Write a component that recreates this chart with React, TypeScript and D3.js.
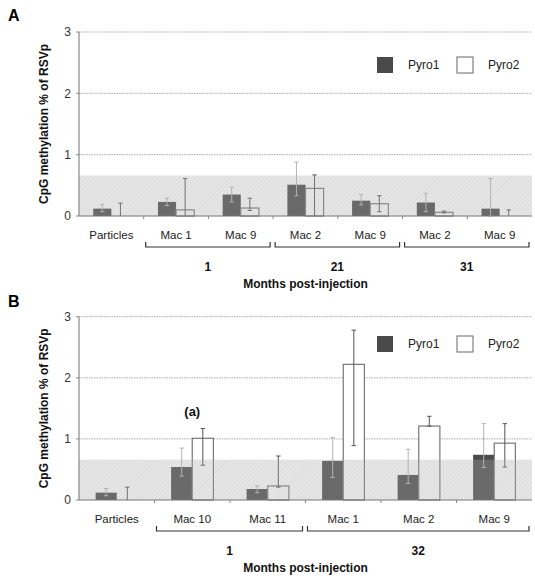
import React from "react";
import * as d3 from "d3";

const categoriesA = ["Particles", "Mac 1", "Mac 9", "Mac 2", "Mac 9", "Mac 2", "Mac 9"];
const pyro1A = [0.12, 0.23, 0.35, 0.51, 0.25, 0.22, 0.12];
const pyro1ALow = [0.07, 0.17, 0.23, 0.33, 0.18, 0.07, 0.0];
const pyro1AHigh = [0.19, 0.29, 0.47, 0.88, 0.35, 0.37, 0.61];
const pyro2A = [0, 0.1, 0.13, 0.45, 0.2, 0.06, 0];
const pyro2ALow = [0, 0, 0.09, 0, 0.07, 0.05, 0];
const pyro2AHigh = [0.21, 0.61, 0.29, 0.67, 0.33, 0.08, 0.1];
const groupsA = [
  { label: "1", from: 1, to: 2 },
  { label: "21", from: 3, to: 4 },
  { label: "31", from: 5, to: 6 },
];

const categoriesB = ["Particles", "Mac 10", "Mac 11", "Mac 1", "Mac 2", "Mac 9"];
const pyro1B = [0.12, 0.54, 0.18, 0.64, 0.41, 0.74];
const pyro1BLow = [0.07, 0.39, 0.12, 0.37, 0.27, 0.53];
const pyro1BHigh = [0.19, 0.85, 0.23, 1.02, 0.83, 1.25];
const pyro2B = [0, 1.01, 0.23, 2.22, 1.21, 0.93];
const pyro2BLow = [0, 0.57, 0.21, 0.89, 1.21, 0.54];
const pyro2BHigh = [0.21, 1.17, 0.72, 2.78, 1.37, 1.25];
const groupsB = [
  { label: "1", from: 1, to: 2 },
  { label: "32", from: 3, to: 5 },
];

const yTicks = [0, 1, 2, 3];
const bandLimit = 0.66;
const seriesNames = ["Pyro1", "Pyro2"];

const FONT = "'Liberation Sans', Arial, Helvetica, sans-serif";

type PanelProps = {
  letter: string;
  top: number;
  y0: number;
  y3: number;
  categories: string[];
  p1: number[]; p1l: number[]; p1h: number[];
  p2: number[]; p2l: number[]; p2h: number[];
  groups: { label: string; from: number; to: number }[];
  legendY: number;
  note?: { index: number; text: string; value: number };
};

function Panel(props: PanelProps) {
  const { letter, top, y0, y3, categories, p1, p1l, p1h, p2, p2l, p2h, groups, legendY, note } = props;
  const left = 79, right = 532;
  const x = d3.scaleBand<number>().domain(categories.map((_, i) => i)).range([left, right]).padding(0);
  const y = d3.scaleLinear().domain([0, 3]).range([y0, y3]);
  const bw = x.bandwidth() * 0.28;
  const cx = (i: number) => (x(i) as number) + x.bandwidth() / 2;
  const cap = 2.2;
  const pid = "hatch" + letter;
  const labelY = y0 + 19;
  const bracketY = y0 + 31;
  const groupY = y0 + 55;
  const titleY = y0 + 72;

  return (
    <g>
      <defs>
        <pattern id={pid} patternUnits="userSpaceOnUse" width={3} height={3} patternTransform="rotate(45)">
          <line x1={0} y1={0} x2={0} y2={3} stroke="#8a8a8a" strokeWidth={0.8} strokeOpacity={0.35} />
        </pattern>
      </defs>
      <text x={8} y={top} fontFamily={FONT} fontWeight="bold" fontSize={16} fill="#000">{letter}</text>
      {yTicks.filter((t) => t > 0).map((t) => (
        <line key={t} x1={left} x2={right} y1={y(t)} y2={y(t)} stroke="#999" strokeWidth={0.8} strokeDasharray="1.5,1" />
      ))}
      {categories.map((_, i) => (
        <g key={"b" + i}>
          <rect x={cx(i) - bw} y={y(p1[i])} width={bw} height={y0 - y(p1[i])} fill="#4a4a4a" />
          {p2[i] > 0 && (
            <rect x={cx(i)} y={y(p2[i])} width={bw} height={y0 - y(p2[i])} fill="#fff" stroke="#777" strokeWidth={1.2} />
          )}
        </g>
      ))}
      {categories.map((_, i) => {
        const e1 = cx(i) - bw / 2;
        const e2 = cx(i) + bw / 2;
        return (
          <g key={"e" + i}>
            {p1h[i] > p1l[i] && (
              <g stroke="#b5b5b5" strokeWidth={1}>
                <line x1={e1} x2={e1} y1={y(p1l[i])} y2={y(p1h[i])} />
                <line x1={e1 - cap} x2={e1 + cap} y1={y(p1h[i])} y2={y(p1h[i])} />
                <line x1={e1 - cap} x2={e1 + cap} y1={y(p1l[i])} y2={y(p1l[i])} />
              </g>
            )}
            {p2h[i] > p2l[i] && (
              <g stroke="#555" strokeWidth={1}>
                <line x1={e2} x2={e2} y1={y(p2l[i])} y2={y(p2h[i])} />
                <line x1={e2 - cap} x2={e2 + cap} y1={y(p2h[i])} y2={y(p2h[i])} />
                {p2l[i] > 0 && <line x1={e2 - cap} x2={e2 + cap} y1={y(p2l[i])} y2={y(p2l[i])} />}
              </g>
            )}
          </g>
        );
      })}
      <rect x={left} y={y(bandLimit)} width={right - left} height={y0 - y(bandLimit)} fill="#b0b0b0" fillOpacity={0.3} />
      <rect x={left} y={y(bandLimit)} width={right - left} height={y0 - y(bandLimit)} fill={`url(#${pid})`} />
      <line x1={left} x2={left} y1={y3} y2={y0} stroke="#888" strokeWidth={1.2} />
      <line x1={left} x2={right} y1={y0} y2={y0} stroke="#777" strokeWidth={1.2} />
      {yTicks.map((t) => (
        <g key={"t" + t}>
          <line x1={left - 3} x2={left} y1={y(t)} y2={y(t)} stroke="#888" />
          <text x={left - 8} y={y(t)} dy="0.35em" textAnchor="end" fontFamily={FONT} fontSize={12} fill="#333">{t}</text>
        </g>
      ))}
      {categories.map((_, i) => i > 0 ? (
        <line key={"k" + i} x1={x(i) as number} x2={x(i) as number} y1={y0} y2={y0 + 3} stroke="#888" />
      ) : null)}
      {categories.map((c, i) => (
        <text key={"c" + i} x={cx(i)} y={labelY} dy="0.35em" textAnchor="middle" fontFamily={FONT} fontSize={11.5} fill="#222">{c}</text>
      ))}
      {groups.map((g) => {
        const x1 = (x(g.from) as number) + 2;
        const x2 = (x(g.to) as number) + x.bandwidth() - 3;
        return (
          <g key={"g" + g.label}>
            <path d={`M${x1},${bracketY - 5}V${bracketY}H${x2}V${bracketY - 5}`} fill="none" stroke="#333" strokeWidth={1.2} />
            <text x={(x1 + x2) / 2} y={groupY} textAnchor="middle" fontFamily={FONT} fontWeight="bold" fontSize={12} fill="#111">{g.label}</text>
          </g>
        );
      })}
      <text x={(left + right) / 2} y={titleY} textAnchor="middle" fontFamily={FONT} fontWeight="bold" fontSize={12} fill="#111">Months post-injection</text>
      <text transform={`translate(48,${(y0 + y3) / 2}) rotate(-90)`} textAnchor="middle" fontFamily={FONT} fontWeight="bold" fontSize={12} fill="#111">CpG methylation % of RSVp</text>
      {note && (
        <text x={cx(note.index)} y={y(note.value)} textAnchor="middle" fontFamily={FONT} fontWeight="bold" fontSize={13} fill="#111">{note.text}</text>
      )}
      <rect x={377} y={legendY - 8} width={16} height={16} fill="#4a4a4a" />
      <text x={408} y={legendY} dy="0.35em" fontFamily={FONT} fontSize={12} fill="#222">{seriesNames[0]}</text>
      <rect x={457} y={legendY - 8} width={16} height={16} fill="#fff" stroke="#666" strokeWidth={1} />
      <text x={488} y={legendY} dy="0.35em" fontFamily={FONT} fontSize={12} fill="#222">{seriesNames[1]}</text>
    </g>
  );
}

export default function App() {
  return (
    <svg width={535} height={578} style={{ position: "absolute", left: 0, top: 0, background: "#fff" }}>
      <rect width={535} height={578} fill="#fff" />
      <Panel letter="A" top={21} y0={216} y3={32} categories={categoriesA}
        p1={pyro1A} p1l={pyro1ALow} p1h={pyro1AHigh} p2={pyro2A} p2l={pyro2ALow} p2h={pyro2AHigh}
        groups={groupsA} legendY={65} />
      <Panel letter="B" top={307} y0={500} y3={316.7} categories={categoriesB}
        p1={pyro1B} p1l={pyro1BLow} p1h={pyro1BHigh} p2={pyro2B} p2l={pyro2BLow} p2h={pyro2BHigh}
        groups={groupsB} legendY={344} note={{ index: 1, text: "(a)", value: 1.38 }} />
    </svg>
  );
}
